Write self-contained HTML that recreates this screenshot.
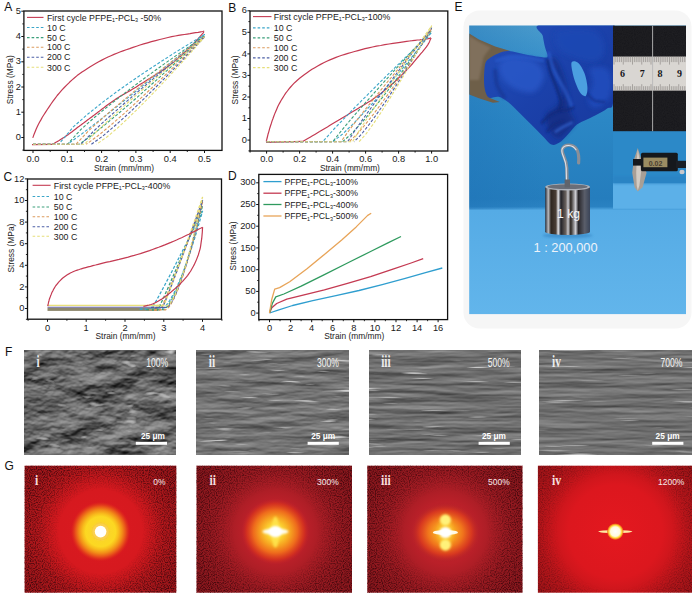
<!DOCTYPE html><html><head><meta charset="utf-8"><title>Figure</title><style>html,body{margin:0;padding:0;background:#fff}body{width:692px;height:594px;overflow:hidden}svg{display:block}</style></head><body>
<svg width="692" height="594" viewBox="0 0 692 594" font-family="Liberation Sans, Arial, sans-serif">
<rect width="692" height="594" fill="#fff"/>
<rect x="23.9" y="11.0" width="198.1" height="139.4" fill="#fff" stroke="#111" stroke-width="1.3"/>
<line x1="33.0" y1="150.4" x2="33.0" y2="153.0" stroke="#111" stroke-width="1"/>
<line x1="67.3" y1="150.4" x2="67.3" y2="153.0" stroke="#111" stroke-width="1"/>
<line x1="101.6" y1="150.4" x2="101.6" y2="153.0" stroke="#111" stroke-width="1"/>
<line x1="135.9" y1="150.4" x2="135.9" y2="153.0" stroke="#111" stroke-width="1"/>
<line x1="170.2" y1="150.4" x2="170.2" y2="153.0" stroke="#111" stroke-width="1"/>
<line x1="204.5" y1="150.4" x2="204.5" y2="153.0" stroke="#111" stroke-width="1"/>
<line x1="50.2" y1="150.4" x2="50.2" y2="152.0" stroke="#111" stroke-width="0.9"/>
<line x1="84.5" y1="150.4" x2="84.5" y2="152.0" stroke="#111" stroke-width="0.9"/>
<line x1="118.8" y1="150.4" x2="118.8" y2="152.0" stroke="#111" stroke-width="0.9"/>
<line x1="153.1" y1="150.4" x2="153.1" y2="152.0" stroke="#111" stroke-width="0.9"/>
<line x1="187.3" y1="150.4" x2="187.3" y2="152.0" stroke="#111" stroke-width="0.9"/>
<line x1="21.3" y1="137.5" x2="23.9" y2="137.5" stroke="#111" stroke-width="1"/>
<line x1="21.3" y1="112.2" x2="23.9" y2="112.2" stroke="#111" stroke-width="1"/>
<line x1="21.3" y1="87.0" x2="23.9" y2="87.0" stroke="#111" stroke-width="1"/>
<line x1="21.3" y1="61.8" x2="23.9" y2="61.8" stroke="#111" stroke-width="1"/>
<line x1="21.3" y1="36.5" x2="23.9" y2="36.5" stroke="#111" stroke-width="1"/>
<line x1="21.3" y1="11.2" x2="23.9" y2="11.2" stroke="#111" stroke-width="1"/>
<line x1="22.3" y1="150.1" x2="23.9" y2="150.1" stroke="#111" stroke-width="0.9"/>
<line x1="22.3" y1="124.9" x2="23.9" y2="124.9" stroke="#111" stroke-width="0.9"/>
<line x1="22.3" y1="99.6" x2="23.9" y2="99.6" stroke="#111" stroke-width="0.9"/>
<line x1="22.3" y1="74.4" x2="23.9" y2="74.4" stroke="#111" stroke-width="0.9"/>
<line x1="22.3" y1="49.1" x2="23.9" y2="49.1" stroke="#111" stroke-width="0.9"/>
<line x1="22.3" y1="23.9" x2="23.9" y2="23.9" stroke="#111" stroke-width="0.9"/>
<text x="33.0" y="161.6" font-size="9.3" text-anchor="middle" fill="#1a1a1a">0.0</text>
<text x="67.3" y="161.6" font-size="9.3" text-anchor="middle" fill="#1a1a1a">0.1</text>
<text x="101.6" y="161.6" font-size="9.3" text-anchor="middle" fill="#1a1a1a">0.2</text>
<text x="135.9" y="161.6" font-size="9.3" text-anchor="middle" fill="#1a1a1a">0.3</text>
<text x="170.2" y="161.6" font-size="9.3" text-anchor="middle" fill="#1a1a1a">0.4</text>
<text x="204.5" y="161.6" font-size="9.3" text-anchor="middle" fill="#1a1a1a">0.5</text>
<text x="20.8" y="140.1" font-size="9.3" text-anchor="end" fill="#1a1a1a">0</text>
<text x="20.8" y="114.8" font-size="9.3" text-anchor="end" fill="#1a1a1a">1</text>
<text x="20.8" y="89.6" font-size="9.3" text-anchor="end" fill="#1a1a1a">2</text>
<text x="20.8" y="64.3" font-size="9.3" text-anchor="end" fill="#1a1a1a">3</text>
<text x="20.8" y="39.1" font-size="9.3" text-anchor="end" fill="#1a1a1a">4</text>
<text x="20.8" y="13.8" font-size="9.3" text-anchor="end" fill="#1a1a1a">5</text>
<text x="124.0" y="171.0" font-size="8.4" text-anchor="middle" fill="#1a1a1a">Strain (mm/mm)</text>
<text transform="translate(12.5,79.7) rotate(-90)" font-size="8.4" text-anchor="middle" fill="#1a1a1a">Stress (MPa)</text>
<g clip-path="url(#cA)">
<polyline points="32.7,137.8 33.3,136.4 34.0,134.4 34.9,132.2 35.9,129.7 37.0,127.2 38.2,124.7 39.5,122.3 40.9,119.9 42.3,117.3 43.9,114.8 45.6,112.2 47.3,109.5 49.1,106.8 51.0,104.0 53.0,101.2 55.1,98.3 57.2,95.5 59.5,92.8 61.8,90.2 64.3,87.5 66.9,84.9 69.5,82.3 72.1,79.9 74.6,77.7 77.1,75.6 79.6,73.8 82.0,72.0 84.5,70.4 87.1,68.7 89.8,67.0 92.7,65.3 95.6,63.6 98.7,61.8 101.8,60.1 104.9,58.5 108.0,57.0 111.0,55.7 114.0,54.4 116.9,53.2 119.9,52.0 123.0,50.9 126.2,49.7 129.6,48.6 133.0,47.4 136.5,46.2 140.0,45.0 143.7,43.9 147.5,42.8 151.4,41.7 155.6,40.6 159.8,39.5 164.0,38.5 168.0,37.5 171.7,36.7 175.2,36.0 178.4,35.4 181.5,34.9 184.4,34.5 187.2,34.1 190.0,33.7 192.7,33.2 195.5,32.7 198.2,32.3 200.7,31.8 202.7,31.5 204.2,31.2" fill="none" stroke="#c43a52" stroke-width="1.2" stroke-linejoin="round" />
<polyline points="203.9,32.1 203.0,33.2 201.7,34.7 200.2,36.4 198.5,38.3 196.8,40.2 195.1,42.0 193.4,43.8 191.7,45.6 189.8,47.4 188.0,49.2 186.2,51.0 184.4,52.7 182.6,54.4 180.8,56.0 179.0,57.6 177.3,59.1 175.5,60.6 173.7,62.1 171.9,63.5 170.1,64.9 168.3,66.3 166.6,67.6 164.8,68.9 163.0,70.1 161.2,71.3 159.4,72.4 157.6,73.5 155.9,74.6 154.1,75.7 152.3,76.8 150.5,77.9 148.7,79.0 147.0,80.1 145.2,81.2 143.4,82.4 141.6,83.5 139.8,84.6 138.0,85.7 136.3,86.9 134.5,88.0 132.7,89.1 130.9,90.2 129.1,91.2 127.3,92.2 125.6,93.2 123.8,94.2 122.0,95.2 120.2,96.3 118.4,97.4 116.6,98.6 114.9,99.8 113.1,101.0 111.3,102.3 109.5,103.5 107.7,104.8 106.0,106.1 104.2,107.5 102.4,108.8 100.6,110.2 98.8,111.6 97.0,112.9 95.3,114.2 93.5,115.6 91.7,116.9 89.9,118.2 88.1,119.6 86.3,120.9 84.6,122.2 82.8,123.6 81.0,124.9 79.2,126.3 77.4,127.6 75.7,128.9 73.9,130.3 72.1,131.7 70.3,133.0 68.5,134.4 66.7,135.6 64.9,136.9 62.9,138.1 61.0,139.3 59.1,140.5 57.4,141.5 56.0,142.3 54.9,142.9 54.1,143.4 53.4,143.8 52.8,144.1 52.4,144.3 52.0,144.4" fill="none" stroke="#c43a52" stroke-width="1.2" stroke-linejoin="round" />
<polyline points="52.0,144.4 32.0,144.6" fill="none" stroke="#c43a52" stroke-width="1.2" stroke-linejoin="round" />
<polyline points="33.0,144.3 58.7,144.3 73.3,126.9 87.9,114.0 102.5,102.4 117.0,91.5 131.6,81.2 146.2,71.3 160.8,61.7 175.3,52.4 189.9,43.4 204.5,34.5 190.8,46.0 177.1,57.4 163.3,68.8 149.6,80.1 135.9,91.3 122.2,102.3 108.5,113.3 94.7,124.0 81.0,134.5 67.3,144.3" fill="none" stroke="#3aa6c9" stroke-width="1.1" stroke-dasharray="3,1.8" stroke-linejoin="round" />
<polyline points="33.0,144.3 67.3,144.3 81.0,129.4 94.7,117.2 108.5,105.9 122.2,95.1 135.9,84.6 149.6,74.5 163.3,64.6 177.1,54.9 190.8,45.4 204.5,36.0 192.0,47.6 179.5,59.2 166.9,70.6 154.4,81.9 141.9,93.1 129.4,104.1 116.9,114.8 104.3,125.3 91.8,135.3 79.3,144.3" fill="none" stroke="#3a9f7a" stroke-width="1.1" stroke-dasharray="3,1.8" stroke-linejoin="round" />
<polyline points="33.0,144.3 75.9,144.3 88.7,130.7 101.6,119.0 114.5,107.8 127.3,97.1 140.2,86.5 153.1,76.2 165.9,66.1 178.8,56.1 191.6,46.3 204.5,36.5 192.7,48.3 180.8,60.0 169.0,71.5 157.2,82.8 145.3,94.0 133.5,105.0 121.7,115.6 109.8,126.0 98.0,135.8 86.2,144.3" fill="none" stroke="#dc9a5c" stroke-width="1.1" stroke-dasharray="3,1.8" stroke-linejoin="round" />
<polyline points="33.0,144.3 81.0,144.3 93.4,131.4 105.7,119.9 118.1,108.9 130.4,98.1 142.8,87.6 155.1,77.2 167.5,67.0 179.8,56.9 192.2,46.9 204.5,37.0 193.2,48.9 181.9,60.7 170.5,72.3 159.2,83.8 147.9,94.9 136.6,105.9 125.3,116.5 113.9,126.6 102.6,136.2 91.3,144.3" fill="none" stroke="#4c5fa6" stroke-width="1.1" stroke-dasharray="3,1.8" stroke-linejoin="round" />
<polyline points="33.0,144.3 84.4,144.3 96.5,131.7 108.5,120.3 120.5,109.3 132.5,98.5 144.5,88.0 156.5,77.6 168.5,67.3 180.5,57.1 192.5,47.0 204.5,37.0 193.7,49.3 182.9,61.3 172.1,73.1 161.3,84.7 150.5,96.0 139.7,106.9 128.9,117.4 118.1,127.5 107.3,136.7 96.5,144.3" fill="none" stroke="#e6de78" stroke-width="1.1" stroke-dasharray="3,1.8" stroke-linejoin="round" />
</g>
<line x1="27.0" y1="17.4" x2="43.5" y2="17.4" stroke="#c43a52" stroke-width="1.1"/>
<text x="47.0" y="20.6" font-size="8.8" fill="#1a1a1a">First cycle PFPE<tspan font-size="5.4" dy="1.6">1</tspan><tspan dy="-1.6">-PCL</tspan><tspan font-size="5.4" dy="1.6">3</tspan><tspan dy="-1.6"> -50%</tspan></text>
<line x1="27.0" y1="27.5" x2="43.5" y2="27.5" stroke="#3aa6c9" stroke-width="1.1" stroke-dasharray="2.6,2"/>
<text x="47.0" y="30.7" font-size="8.8" fill="#1a1a1a">10 C</text>
<line x1="27.0" y1="37.6" x2="43.5" y2="37.6" stroke="#3a9f7a" stroke-width="1.1" stroke-dasharray="2.6,2"/>
<text x="47.0" y="40.8" font-size="8.8" fill="#1a1a1a">50 C</text>
<line x1="27.0" y1="47.2" x2="43.5" y2="47.2" stroke="#dc9a5c" stroke-width="1.1" stroke-dasharray="2.6,2"/>
<text x="47.0" y="50.4" font-size="8.8" fill="#1a1a1a">100 C</text>
<line x1="27.0" y1="57.2" x2="43.5" y2="57.2" stroke="#4c5fa6" stroke-width="1.1" stroke-dasharray="2.6,2"/>
<text x="47.0" y="60.4" font-size="8.8" fill="#1a1a1a">200 C</text>
<line x1="27.0" y1="67.3" x2="43.5" y2="67.3" stroke="#e6de78" stroke-width="1.1" stroke-dasharray="2.6,2"/>
<text x="47.0" y="70.5" font-size="8.8" fill="#1a1a1a">300 C</text>
<text x="4.3" y="11.2" font-size="12" fill="#111">A</text>
<rect x="250.0" y="11.0" width="197.8" height="140.0" fill="#fff" stroke="#111" stroke-width="1.3"/>
<line x1="266.6" y1="151.0" x2="266.6" y2="153.6" stroke="#111" stroke-width="1"/>
<line x1="299.6" y1="151.0" x2="299.6" y2="153.6" stroke="#111" stroke-width="1"/>
<line x1="332.6" y1="151.0" x2="332.6" y2="153.6" stroke="#111" stroke-width="1"/>
<line x1="365.6" y1="151.0" x2="365.6" y2="153.6" stroke="#111" stroke-width="1"/>
<line x1="398.6" y1="151.0" x2="398.6" y2="153.6" stroke="#111" stroke-width="1"/>
<line x1="431.6" y1="151.0" x2="431.6" y2="153.6" stroke="#111" stroke-width="1"/>
<line x1="250.1" y1="151.0" x2="250.1" y2="152.6" stroke="#111" stroke-width="0.9"/>
<line x1="283.1" y1="151.0" x2="283.1" y2="152.6" stroke="#111" stroke-width="0.9"/>
<line x1="316.1" y1="151.0" x2="316.1" y2="152.6" stroke="#111" stroke-width="0.9"/>
<line x1="349.1" y1="151.0" x2="349.1" y2="152.6" stroke="#111" stroke-width="0.9"/>
<line x1="382.1" y1="151.0" x2="382.1" y2="152.6" stroke="#111" stroke-width="0.9"/>
<line x1="415.1" y1="151.0" x2="415.1" y2="152.6" stroke="#111" stroke-width="0.9"/>
<line x1="247.4" y1="140.1" x2="250.0" y2="140.1" stroke="#111" stroke-width="1"/>
<line x1="247.4" y1="118.5" x2="250.0" y2="118.5" stroke="#111" stroke-width="1"/>
<line x1="247.4" y1="97.0" x2="250.0" y2="97.0" stroke="#111" stroke-width="1"/>
<line x1="247.4" y1="75.4" x2="250.0" y2="75.4" stroke="#111" stroke-width="1"/>
<line x1="247.4" y1="53.9" x2="250.0" y2="53.9" stroke="#111" stroke-width="1"/>
<line x1="247.4" y1="32.3" x2="250.0" y2="32.3" stroke="#111" stroke-width="1"/>
<line x1="247.4" y1="10.8" x2="250.0" y2="10.8" stroke="#111" stroke-width="1"/>
<line x1="248.4" y1="150.9" x2="250.0" y2="150.9" stroke="#111" stroke-width="0.9"/>
<line x1="248.4" y1="129.3" x2="250.0" y2="129.3" stroke="#111" stroke-width="0.9"/>
<line x1="248.4" y1="107.8" x2="250.0" y2="107.8" stroke="#111" stroke-width="0.9"/>
<line x1="248.4" y1="86.2" x2="250.0" y2="86.2" stroke="#111" stroke-width="0.9"/>
<line x1="248.4" y1="64.7" x2="250.0" y2="64.7" stroke="#111" stroke-width="0.9"/>
<line x1="248.4" y1="43.1" x2="250.0" y2="43.1" stroke="#111" stroke-width="0.9"/>
<line x1="248.4" y1="21.6" x2="250.0" y2="21.6" stroke="#111" stroke-width="0.9"/>
<text x="266.6" y="161.8" font-size="9.3" text-anchor="middle" fill="#1a1a1a">0.0</text>
<text x="299.6" y="161.8" font-size="9.3" text-anchor="middle" fill="#1a1a1a">0.2</text>
<text x="332.6" y="161.8" font-size="9.3" text-anchor="middle" fill="#1a1a1a">0.4</text>
<text x="365.6" y="161.8" font-size="9.3" text-anchor="middle" fill="#1a1a1a">0.6</text>
<text x="398.6" y="161.8" font-size="9.3" text-anchor="middle" fill="#1a1a1a">0.8</text>
<text x="431.6" y="161.8" font-size="9.3" text-anchor="middle" fill="#1a1a1a">1.0</text>
<text x="246.9" y="142.7" font-size="9.3" text-anchor="end" fill="#1a1a1a">0</text>
<text x="246.9" y="121.1" font-size="9.3" text-anchor="end" fill="#1a1a1a">1</text>
<text x="246.9" y="99.6" font-size="9.3" text-anchor="end" fill="#1a1a1a">2</text>
<text x="246.9" y="78.0" font-size="9.3" text-anchor="end" fill="#1a1a1a">3</text>
<text x="246.9" y="56.5" font-size="9.3" text-anchor="end" fill="#1a1a1a">4</text>
<text x="246.9" y="34.9" font-size="9.3" text-anchor="end" fill="#1a1a1a">5</text>
<text x="246.9" y="13.4" font-size="9.3" text-anchor="end" fill="#1a1a1a">6</text>
<text x="349.9" y="171.0" font-size="8.4" text-anchor="middle" fill="#1a1a1a">Strain (mm/mm)</text>
<text transform="translate(237.5,80.0) rotate(-90)" font-size="8.4" text-anchor="middle" fill="#1a1a1a">Stress (MPa)</text>
<g>
<polyline points="266.2,141.4 266.6,140.2 267.0,138.5 267.5,136.5 268.0,134.3 268.7,132.1 269.3,129.9 269.9,127.7 270.6,125.5 271.4,123.2 272.1,120.9 273.0,118.5 273.8,116.2 274.7,113.9 275.6,111.7 276.6,109.4 277.6,107.1 278.7,104.8 279.9,102.6 281.2,100.3 282.7,97.9 284.2,95.5 285.7,93.2 287.4,91.0 289.0,88.9 290.6,87.0 292.3,85.1 293.9,83.4 295.7,81.7 297.6,80.0 299.6,78.3 301.9,76.5 304.2,74.7 306.7,72.9 309.4,71.1 312.0,69.3 314.8,67.7 317.7,66.0 320.6,64.4 323.7,62.8 326.8,61.3 329.9,59.9 333.0,58.6 336.0,57.4 339.0,56.3 341.9,55.3 344.9,54.4 348.0,53.4 351.2,52.5 354.6,51.5 358.0,50.6 361.5,49.6 365.0,48.7 368.7,47.9 372.5,47.0 376.4,46.2 380.6,45.5 384.8,44.7 389.0,44.0 393.0,43.4 396.7,42.8 400.2,42.3 403.5,41.8 406.6,41.4 409.6,41.0 412.3,40.7 415.0,40.3 417.4,40.0 419.8,39.8 421.9,39.5 423.9,39.3 425.6,39.0 427.1,38.8 428.3,38.6 429.2,38.4 429.8,38.3 430.3,38.1 430.7,38.0 431.0,37.9" fill="none" stroke="#c43a52" stroke-width="1.2" stroke-linejoin="round" />
<polyline points="431.0,37.9 430.8,38.5 430.4,39.4 430.0,40.4 429.6,41.4 429.1,42.5 428.6,43.4 428.2,44.1 427.8,44.8 427.4,45.4 426.9,46.1 426.4,46.9 425.6,47.9 424.6,49.2 423.4,50.6 422.2,52.1 420.8,53.7 419.4,55.4 418.0,57.0 416.6,58.7 415.2,60.4 413.7,62.2 412.2,64.0 410.6,65.8 408.9,67.7 407.0,69.6 405.1,71.7 403.0,73.7 400.9,75.8 398.8,77.8 396.7,79.8 394.7,81.7 392.7,83.5 390.7,85.3 388.7,87.1 386.6,88.8 384.6,90.4 382.6,92.0 380.6,93.6 378.5,95.2 376.5,96.7 374.5,98.1 372.5,99.5 370.5,100.9 368.5,102.1 366.6,103.3 364.6,104.5 362.5,105.8 360.3,107.1 358.0,108.5 355.5,110.0 352.9,111.6 350.3,113.1 347.7,114.7 345.2,116.2 342.6,117.7 340.1,119.3 337.6,120.8 335.0,122.3 332.5,123.8 330.0,125.3 327.4,126.9 324.8,128.4 322.2,130.0 319.6,131.6 317.2,133.0 314.8,134.4 312.5,135.8 310.1,137.2 307.8,138.5 305.7,139.7 303.9,140.7 302.7,141.4" fill="none" stroke="#c43a52" stroke-width="1.2" stroke-linejoin="round" />
<polyline points="302.7,141.4 266.2,142.3" fill="none" stroke="#c43a52" stroke-width="1.2" stroke-linejoin="round" />
<polyline points="266.6,141.8 322.7,141.8 333.6,129.5 344.5,118.1 355.4,106.9 366.3,96.0 377.1,85.2 388.0,74.4 398.9,63.8 409.8,53.3 420.7,42.8 431.6,32.3 421.7,44.8 411.8,57.1 401.9,69.2 392.0,81.0 382.1,92.5 372.2,103.7 362.3,114.4 352.4,124.6 342.5,134.1 332.6,141.8" fill="none" stroke="#3aa6c9" stroke-width="1.1" stroke-dasharray="3,1.8" stroke-linejoin="round" />
<polyline points="266.6,141.8 332.6,141.8 342.5,129.3 352.4,117.6 362.3,106.3 372.2,95.1 382.1,84.0 392.0,73.1 401.9,62.3 411.8,51.5 421.7,40.8 431.6,30.2 422.7,42.9 413.8,55.5 404.9,67.8 396.0,79.8 387.1,91.5 378.1,102.9 369.2,113.9 360.3,124.3 351.4,133.9 342.5,141.8" fill="none" stroke="#3a9f7a" stroke-width="1.1" stroke-dasharray="3,1.8" stroke-linejoin="round" />
<polyline points="266.6,141.8 340.9,141.8 349.9,129.2 359.0,117.4 368.1,105.9 377.2,94.6 386.2,83.5 395.3,72.5 404.4,61.5 413.5,50.6 422.5,39.9 431.6,29.1 423.4,42.0 415.1,54.6 406.9,67.0 398.6,79.2 390.4,91.0 382.1,102.5 373.9,113.6 365.6,124.1 357.4,133.8 349.1,141.8" fill="none" stroke="#dc9a5c" stroke-width="1.1" stroke-dasharray="3,1.8" stroke-linejoin="round" />
<polyline points="266.6,141.8 347.5,141.8 355.9,129.1 364.3,117.2 372.7,105.6 381.1,94.2 389.5,82.9 397.9,71.8 406.4,60.7 414.8,49.8 423.2,38.9 431.6,28.0 423.8,41.0 416.1,53.8 408.3,66.3 400.6,78.6 392.8,90.6 385.1,102.2 377.3,113.3 369.6,123.9 361.8,133.8 354.1,141.8" fill="none" stroke="#4c5fa6" stroke-width="1.1" stroke-dasharray="3,1.8" stroke-linejoin="round" />
<polyline points="266.6,141.8 352.4,141.8 360.3,128.8 368.2,116.7 376.2,104.9 384.1,93.3 392.0,81.8 399.9,70.5 407.8,59.2 415.8,48.0 423.7,36.9 431.6,25.9 424.3,39.1 417.1,52.1 409.8,64.9 402.6,77.4 395.3,89.6 388.0,101.4 380.8,112.8 373.5,123.6 366.3,133.6 359.0,141.8" fill="none" stroke="#e6de78" stroke-width="1.1" stroke-dasharray="3,1.8" stroke-linejoin="round" />
</g>
<line x1="253.0" y1="16.6" x2="271.5" y2="16.6" stroke="#c43a52" stroke-width="1.1"/>
<text x="273.8" y="19.8" font-size="8.8" fill="#1a1a1a">First cycle PFPE<tspan font-size="5.4" dy="1.6">1</tspan><tspan dy="-1.6">-PCL</tspan><tspan font-size="5.4" dy="1.6">3</tspan><tspan dy="-1.6">-100%</tspan></text>
<line x1="253.0" y1="27.9" x2="271.5" y2="27.9" stroke="#3aa6c9" stroke-width="1.1" stroke-dasharray="2.6,2"/>
<text x="273.8" y="31.1" font-size="8.8" fill="#1a1a1a">10 C</text>
<line x1="253.0" y1="37.9" x2="271.5" y2="37.9" stroke="#3a9f7a" stroke-width="1.1" stroke-dasharray="2.6,2"/>
<text x="273.8" y="41.1" font-size="8.8" fill="#1a1a1a">50 C</text>
<line x1="253.0" y1="47.8" x2="271.5" y2="47.8" stroke="#dc9a5c" stroke-width="1.1" stroke-dasharray="2.6,2"/>
<text x="273.8" y="51.0" font-size="8.8" fill="#1a1a1a">100 C</text>
<line x1="253.0" y1="57.9" x2="271.5" y2="57.9" stroke="#4c5fa6" stroke-width="1.1" stroke-dasharray="2.6,2"/>
<text x="273.8" y="61.1" font-size="8.8" fill="#1a1a1a">200 C</text>
<line x1="253.0" y1="67.6" x2="271.5" y2="67.6" stroke="#e6de78" stroke-width="1.1" stroke-dasharray="2.6,2"/>
<text x="273.8" y="70.8" font-size="8.8" fill="#1a1a1a">300 C</text>
<text x="228.3" y="11.5" font-size="12" fill="#111">B</text>
<rect x="27.5" y="179.0" width="194.0" height="140.2" fill="#fff" stroke="#111" stroke-width="1.3"/>
<line x1="47.5" y1="319.2" x2="47.5" y2="321.8" stroke="#111" stroke-width="1"/>
<line x1="86.2" y1="319.2" x2="86.2" y2="321.8" stroke="#111" stroke-width="1"/>
<line x1="125.0" y1="319.2" x2="125.0" y2="321.8" stroke="#111" stroke-width="1"/>
<line x1="163.8" y1="319.2" x2="163.8" y2="321.8" stroke="#111" stroke-width="1"/>
<line x1="202.5" y1="319.2" x2="202.5" y2="321.8" stroke="#111" stroke-width="1"/>
<line x1="28.1" y1="319.2" x2="28.1" y2="320.8" stroke="#111" stroke-width="0.9"/>
<line x1="66.9" y1="319.2" x2="66.9" y2="320.8" stroke="#111" stroke-width="0.9"/>
<line x1="105.6" y1="319.2" x2="105.6" y2="320.8" stroke="#111" stroke-width="0.9"/>
<line x1="144.4" y1="319.2" x2="144.4" y2="320.8" stroke="#111" stroke-width="0.9"/>
<line x1="183.1" y1="319.2" x2="183.1" y2="320.8" stroke="#111" stroke-width="0.9"/>
<line x1="221.9" y1="319.2" x2="221.9" y2="320.8" stroke="#111" stroke-width="0.9"/>
<line x1="24.9" y1="308.5" x2="27.5" y2="308.5" stroke="#111" stroke-width="1"/>
<line x1="24.9" y1="286.9" x2="27.5" y2="286.9" stroke="#111" stroke-width="1"/>
<line x1="24.9" y1="265.3" x2="27.5" y2="265.3" stroke="#111" stroke-width="1"/>
<line x1="24.9" y1="243.7" x2="27.5" y2="243.7" stroke="#111" stroke-width="1"/>
<line x1="24.9" y1="222.1" x2="27.5" y2="222.1" stroke="#111" stroke-width="1"/>
<line x1="24.9" y1="200.5" x2="27.5" y2="200.5" stroke="#111" stroke-width="1"/>
<line x1="24.9" y1="178.9" x2="27.5" y2="178.9" stroke="#111" stroke-width="1"/>
<line x1="25.9" y1="319.3" x2="27.5" y2="319.3" stroke="#111" stroke-width="0.9"/>
<line x1="25.9" y1="297.7" x2="27.5" y2="297.7" stroke="#111" stroke-width="0.9"/>
<line x1="25.9" y1="276.1" x2="27.5" y2="276.1" stroke="#111" stroke-width="0.9"/>
<line x1="25.9" y1="254.5" x2="27.5" y2="254.5" stroke="#111" stroke-width="0.9"/>
<line x1="25.9" y1="232.9" x2="27.5" y2="232.9" stroke="#111" stroke-width="0.9"/>
<line x1="25.9" y1="211.3" x2="27.5" y2="211.3" stroke="#111" stroke-width="0.9"/>
<line x1="25.9" y1="189.7" x2="27.5" y2="189.7" stroke="#111" stroke-width="0.9"/>
<text x="47.5" y="330.6" font-size="9.3" text-anchor="middle" fill="#1a1a1a">0</text>
<text x="86.2" y="330.6" font-size="9.3" text-anchor="middle" fill="#1a1a1a">1</text>
<text x="125.0" y="330.6" font-size="9.3" text-anchor="middle" fill="#1a1a1a">2</text>
<text x="163.8" y="330.6" font-size="9.3" text-anchor="middle" fill="#1a1a1a">3</text>
<text x="202.5" y="330.6" font-size="9.3" text-anchor="middle" fill="#1a1a1a">4</text>
<text x="24.4" y="311.1" font-size="9.3" text-anchor="end" fill="#1a1a1a">0</text>
<text x="24.4" y="289.5" font-size="9.3" text-anchor="end" fill="#1a1a1a">2</text>
<text x="24.4" y="267.9" font-size="9.3" text-anchor="end" fill="#1a1a1a">4</text>
<text x="24.4" y="246.3" font-size="9.3" text-anchor="end" fill="#1a1a1a">6</text>
<text x="24.4" y="224.7" font-size="9.3" text-anchor="end" fill="#1a1a1a">8</text>
<text x="24.4" y="203.1" font-size="9.3" text-anchor="end" fill="#1a1a1a">10</text>
<text x="24.4" y="181.5" font-size="9.3" text-anchor="end" fill="#1a1a1a">12</text>
<text x="125.5" y="338.6" font-size="8.4" text-anchor="middle" fill="#1a1a1a">Strain (mm/mm)</text>
<text transform="translate(13.5,248.1) rotate(-90)" font-size="8.4" text-anchor="middle" fill="#1a1a1a">Stress (MPa)</text>
<g>
<rect x="47.5" y="308.0" width="110.8" height="2.9" fill="#8d876c"/>
<line x1="47.5" y1="307.2" x2="163.0" y2="307.2" stroke="#5f5c96" stroke-width="1.1"/>
<line x1="47.5" y1="305.4" x2="163.8" y2="305.4" stroke="#e9e07c" stroke-width="1.2"/>
<polyline points="139.7,309.0 151.4,309.0 156.5,300.3 161.6,291.0 166.7,281.4 171.8,271.7 176.9,261.8 182.0,251.9 187.2,241.8 192.3,231.7 197.4,221.5 202.5,211.3 198.4,225.6 194.4,239.1 190.3,251.8 186.2,263.6 182.2,274.5 178.1,284.3 174.0,293.0 169.9,300.3 165.9,305.9 161.8,309.0 150.2,309.6" fill="none" stroke="#3aa6c9" stroke-width="1.3" stroke-dasharray="3,1.8" stroke-linejoin="round" />
<polyline points="146.3,309.6 157.9,309.6 162.4,300.3 166.9,290.4 171.3,280.3 175.8,270.0 180.2,259.5 184.7,248.9 189.1,238.3 193.6,227.6 198.0,216.8 202.5,205.9 198.6,221.1 194.8,235.4 190.9,248.9 187.0,261.4 183.1,272.9 179.2,283.4 175.4,292.5 171.5,300.3 167.6,306.3 163.8,309.6 152.1,310.1" fill="none" stroke="#3a9f7a" stroke-width="1.3" stroke-dasharray="3,1.8" stroke-linejoin="round" />
<polyline points="149.0,309.8 160.6,309.8 164.8,300.2 169.0,290.0 173.2,279.5 177.4,268.9 181.6,258.1 185.8,247.1 189.9,236.1 194.1,225.0 198.3,213.9 202.5,202.7 198.8,218.3 195.1,233.1 191.5,247.1 187.8,260.0 184.1,271.9 180.4,282.7 176.7,292.2 173.1,300.2 169.4,306.4 165.7,309.8 154.1,310.3" fill="none" stroke="#dc9a5c" stroke-width="1.3" stroke-dasharray="3,1.8" stroke-linejoin="round" />
<polyline points="151.0,307.4 162.6,307.4 166.6,297.9 170.6,287.7 174.6,277.2 178.6,266.6 182.5,255.8 186.5,244.9 190.5,233.9 194.5,222.8 198.5,211.7 202.5,200.5 198.9,216.1 195.4,230.9 191.8,244.8 188.2,257.7 184.7,269.6 181.1,280.4 177.5,289.9 174.0,297.9 170.4,304.0 166.9,307.4 155.2,308.0" fill="none" stroke="#4c5fa6" stroke-width="1.3" stroke-dasharray="3,1.8" stroke-linejoin="round" />
<polyline points="152.1,305.5 163.8,305.5 167.6,295.8 171.5,285.5 175.4,274.9 179.2,264.1 183.1,253.2 187.0,242.2 190.9,231.1 194.8,219.9 198.6,208.6 202.5,197.3 199.0,213.1 195.5,228.0 192.0,242.1 188.6,255.2 185.1,267.2 181.6,278.1 178.1,287.7 174.6,295.8 171.1,302.1 167.6,305.5 156.0,306.0" fill="none" stroke="#e6de78" stroke-width="1.3" stroke-dasharray="3,1.8" stroke-linejoin="round" />
<polyline points="47.8,306.1 47.9,305.4 48.1,304.4 48.4,303.2 48.6,302.0 49.0,300.7 49.3,299.4 49.7,298.2 50.2,297.0 50.6,295.7 51.2,294.4 51.7,293.1 52.3,291.8 53.0,290.6 53.6,289.3 54.3,288.1 55.1,286.8 55.9,285.5 56.9,284.3 58.0,283.0 59.1,281.6 60.4,280.3 61.7,279.0 63.1,277.8 64.5,276.7 65.9,275.7 67.3,274.7 68.8,273.9 70.3,273.0 71.9,272.3 73.6,271.5 75.4,270.8 77.3,270.1 79.3,269.5 81.3,268.8 83.5,268.2 85.7,267.6 88.1,266.9 90.5,266.3 92.9,265.6 95.5,265.0 98.2,264.3 100.9,263.6 103.8,262.9 106.8,262.2 109.8,261.6 112.9,260.8 116.0,260.1 119.1,259.4 122.2,258.6 125.2,257.8 128.2,257.1 131.3,256.2 134.3,255.4 137.3,254.5 140.4,253.6 143.4,252.6 146.4,251.6 149.5,250.6 152.5,249.5 155.5,248.4 158.6,247.3 161.7,246.1 164.8,244.9 167.9,243.6 170.9,242.4 173.7,241.2 176.5,240.0 179.1,238.8 181.6,237.7 184.1,236.5 186.5,235.3 188.9,234.2 191.4,232.9 194.1,231.6 196.7,230.3 199.1,229.0 201.1,228.0 202.6,227.2" fill="none" stroke="#c43a52" stroke-width="1.2" stroke-linejoin="round" />
<polyline points="202.6,227.2 202.5,228.4 202.4,230.2 202.3,232.2 202.1,234.4 201.9,236.6 201.7,238.7 201.4,240.7 201.1,242.7 200.8,244.8 200.5,246.8 200.1,248.8 199.5,250.9 198.9,252.9 198.3,255.0 197.5,257.0 196.7,259.1 195.9,261.1 195.0,263.0 194.1,264.9 193.1,266.7 192.1,268.5 191.1,270.3 190.0,272.0 188.9,273.6 187.7,275.3 186.5,276.9 185.2,278.4 183.9,279.9 182.6,281.4 181.3,282.7 180.1,284.0 178.8,285.3 177.5,286.4 176.3,287.5 175.0,288.6 173.7,289.7 172.5,290.8 171.2,291.9 169.9,292.9 168.6,293.9 167.3,294.9 166.2,295.8 165.1,296.6 164.1,297.4 163.1,298.0 162.2,298.7 161.2,299.4 160.1,300.0 158.9,300.7 157.7,301.4 156.5,302.1 155.2,302.8 153.9,303.4 152.5,304.0 151.0,304.5 149.2,305.0 147.5,305.4 145.8,305.8 144.4,306.2 143.4,306.4" fill="none" stroke="#c43a52" stroke-width="1.2" stroke-linejoin="round" />
</g>
<line x1="32.6" y1="185.3" x2="50.6" y2="185.3" stroke="#c43a52" stroke-width="1.1"/>
<text x="53.8" y="188.5" font-size="8.8" fill="#1a1a1a">First cycle PFPE<tspan font-size="5.4" dy="1.6">1</tspan><tspan dy="-1.6">-PCL</tspan><tspan font-size="5.4" dy="1.6">3</tspan><tspan dy="-1.6">-400%</tspan></text>
<line x1="32.6" y1="196.5" x2="50.6" y2="196.5" stroke="#3aa6c9" stroke-width="1.1" stroke-dasharray="2.6,2"/>
<text x="53.8" y="199.7" font-size="8.8" fill="#1a1a1a">10 C</text>
<line x1="32.6" y1="207.0" x2="50.6" y2="207.0" stroke="#3a9f7a" stroke-width="1.1" stroke-dasharray="2.6,2"/>
<text x="53.8" y="210.2" font-size="8.8" fill="#1a1a1a">50 C</text>
<line x1="32.6" y1="216.7" x2="50.6" y2="216.7" stroke="#dc9a5c" stroke-width="1.1" stroke-dasharray="2.6,2"/>
<text x="53.8" y="219.9" font-size="8.8" fill="#1a1a1a">100 C</text>
<line x1="32.6" y1="226.8" x2="50.6" y2="226.8" stroke="#4c5fa6" stroke-width="1.1" stroke-dasharray="2.6,2"/>
<text x="53.8" y="230.0" font-size="8.8" fill="#1a1a1a">200 C</text>
<line x1="32.6" y1="236.3" x2="50.6" y2="236.3" stroke="#e6de78" stroke-width="1.1" stroke-dasharray="2.6,2"/>
<text x="53.8" y="239.5" font-size="8.8" fill="#1a1a1a">300 C</text>
<text x="3.6" y="180.6" font-size="12" fill="#111">C</text>
<rect x="258.8" y="174.4" width="188.8" height="145.2" fill="#fff" stroke="#111" stroke-width="1.3"/>
<line x1="269.5" y1="319.6" x2="269.5" y2="322.2" stroke="#111" stroke-width="1"/>
<line x1="290.6" y1="319.6" x2="290.6" y2="322.2" stroke="#111" stroke-width="1"/>
<line x1="311.7" y1="319.6" x2="311.7" y2="322.2" stroke="#111" stroke-width="1"/>
<line x1="332.7" y1="319.6" x2="332.7" y2="322.2" stroke="#111" stroke-width="1"/>
<line x1="353.8" y1="319.6" x2="353.8" y2="322.2" stroke="#111" stroke-width="1"/>
<line x1="374.9" y1="319.6" x2="374.9" y2="322.2" stroke="#111" stroke-width="1"/>
<line x1="396.0" y1="319.6" x2="396.0" y2="322.2" stroke="#111" stroke-width="1"/>
<line x1="417.1" y1="319.6" x2="417.1" y2="322.2" stroke="#111" stroke-width="1"/>
<line x1="438.1" y1="319.6" x2="438.1" y2="322.2" stroke="#111" stroke-width="1"/>
<line x1="259.0" y1="319.6" x2="259.0" y2="321.2" stroke="#111" stroke-width="0.9"/>
<line x1="280.0" y1="319.6" x2="280.0" y2="321.2" stroke="#111" stroke-width="0.9"/>
<line x1="301.1" y1="319.6" x2="301.1" y2="321.2" stroke="#111" stroke-width="0.9"/>
<line x1="322.2" y1="319.6" x2="322.2" y2="321.2" stroke="#111" stroke-width="0.9"/>
<line x1="343.3" y1="319.6" x2="343.3" y2="321.2" stroke="#111" stroke-width="0.9"/>
<line x1="364.4" y1="319.6" x2="364.4" y2="321.2" stroke="#111" stroke-width="0.9"/>
<line x1="385.4" y1="319.6" x2="385.4" y2="321.2" stroke="#111" stroke-width="0.9"/>
<line x1="406.5" y1="319.6" x2="406.5" y2="321.2" stroke="#111" stroke-width="0.9"/>
<line x1="427.6" y1="319.6" x2="427.6" y2="321.2" stroke="#111" stroke-width="0.9"/>
<line x1="256.2" y1="313.1" x2="258.8" y2="313.1" stroke="#111" stroke-width="1"/>
<line x1="256.2" y1="291.4" x2="258.8" y2="291.4" stroke="#111" stroke-width="1"/>
<line x1="256.2" y1="269.7" x2="258.8" y2="269.7" stroke="#111" stroke-width="1"/>
<line x1="256.2" y1="247.9" x2="258.8" y2="247.9" stroke="#111" stroke-width="1"/>
<line x1="256.2" y1="226.2" x2="258.8" y2="226.2" stroke="#111" stroke-width="1"/>
<line x1="256.2" y1="204.5" x2="258.8" y2="204.5" stroke="#111" stroke-width="1"/>
<line x1="256.2" y1="182.8" x2="258.8" y2="182.8" stroke="#111" stroke-width="1"/>
<line x1="257.2" y1="302.2" x2="258.8" y2="302.2" stroke="#111" stroke-width="0.9"/>
<line x1="257.2" y1="280.5" x2="258.8" y2="280.5" stroke="#111" stroke-width="0.9"/>
<line x1="257.2" y1="258.8" x2="258.8" y2="258.8" stroke="#111" stroke-width="0.9"/>
<line x1="257.2" y1="237.1" x2="258.8" y2="237.1" stroke="#111" stroke-width="0.9"/>
<line x1="257.2" y1="215.3" x2="258.8" y2="215.3" stroke="#111" stroke-width="0.9"/>
<line x1="257.2" y1="193.6" x2="258.8" y2="193.6" stroke="#111" stroke-width="0.9"/>
<text x="269.5" y="331.2" font-size="9.3" text-anchor="middle" fill="#1a1a1a">0</text>
<text x="290.6" y="331.2" font-size="9.3" text-anchor="middle" fill="#1a1a1a">2</text>
<text x="311.7" y="331.2" font-size="9.3" text-anchor="middle" fill="#1a1a1a">4</text>
<text x="332.7" y="331.2" font-size="9.3" text-anchor="middle" fill="#1a1a1a">6</text>
<text x="353.8" y="331.2" font-size="9.3" text-anchor="middle" fill="#1a1a1a">8</text>
<text x="374.9" y="331.2" font-size="9.3" text-anchor="middle" fill="#1a1a1a">10</text>
<text x="396.0" y="331.2" font-size="9.3" text-anchor="middle" fill="#1a1a1a">12</text>
<text x="417.1" y="331.2" font-size="9.3" text-anchor="middle" fill="#1a1a1a">14</text>
<text x="438.1" y="331.2" font-size="9.3" text-anchor="middle" fill="#1a1a1a">16</text>
<text x="255.7" y="315.7" font-size="9.3" text-anchor="end" fill="#1a1a1a">0</text>
<text x="255.7" y="294.0" font-size="9.3" text-anchor="end" fill="#1a1a1a">50</text>
<text x="255.7" y="272.3" font-size="9.3" text-anchor="end" fill="#1a1a1a">100</text>
<text x="255.7" y="250.5" font-size="9.3" text-anchor="end" fill="#1a1a1a">150</text>
<text x="255.7" y="228.8" font-size="9.3" text-anchor="end" fill="#1a1a1a">200</text>
<text x="255.7" y="207.1" font-size="9.3" text-anchor="end" fill="#1a1a1a">250</text>
<text x="255.7" y="185.4" font-size="9.3" text-anchor="end" fill="#1a1a1a">300</text>
<text x="354.2" y="338.6" font-size="8.4" text-anchor="middle" fill="#1a1a1a">Strain (mm/mm)</text>
<text transform="translate(235.5,246.0) rotate(-90)" font-size="8.4" text-anchor="middle" fill="#1a1a1a">Stress (MPa)</text>
<polyline points="269.5,313.0 278.1,310.2 292.6,305.5 312.8,300.6 335.9,295.7 359.0,290.5 382.2,284.7 405.3,278.4 425.5,272.6 442.3,268.0" fill="none" stroke="#2f9ecf" stroke-width="1.3" stroke-linejoin="round" />
<polyline points="269.5,313.0 271.8,307.8 276.7,303.5 286.8,299.2 304.1,294.8 324.4,289.9 347.5,283.3 370.6,276.6 393.7,268.8 411.1,263.0 423.2,258.7" fill="none" stroke="#c43a52" stroke-width="1.3" stroke-linejoin="round" />
<polyline points="269.5,313.0 272.3,303.5 275.8,296.9 283.9,294.0 301.2,286.2 324.4,274.6 347.5,263.0 370.6,251.5 387.9,242.8 401.0,236.5" fill="none" stroke="#2f9a5e" stroke-width="1.3" stroke-linejoin="round" />
<polyline points="269.5,313.0 271.8,299.2 274.7,289.1 279.6,287.6 289.7,281.8 307.0,268.8 324.4,254.4 341.7,239.9 356.2,226.9 367.7,215.4 371.2,213.3" fill="none" stroke="#e8a458" stroke-width="1.3" stroke-linejoin="round" />
<line x1="263.4" y1="181.6" x2="281.5" y2="181.6" stroke="#2f9ecf" stroke-width="1.3"/>
<text x="284.4" y="184.8" font-size="8.7" fill="#1a1a1a">PFPE<tspan font-size="5.4" dy="1.6">1</tspan><tspan dy="-1.6">-PCL</tspan><tspan font-size="5.4" dy="1.6">3</tspan><tspan dy="-1.6">-100%</tspan></text>
<line x1="263.4" y1="193.2" x2="281.5" y2="193.2" stroke="#c43a52" stroke-width="1.3"/>
<text x="284.4" y="196.4" font-size="8.7" fill="#1a1a1a">PFPE<tspan font-size="5.4" dy="1.6">1</tspan><tspan dy="-1.6">-PCL</tspan><tspan font-size="5.4" dy="1.6">3</tspan><tspan dy="-1.6">-300%</tspan></text>
<line x1="263.4" y1="204.5" x2="281.5" y2="204.5" stroke="#2f9a5e" stroke-width="1.3"/>
<text x="284.4" y="207.7" font-size="8.7" fill="#1a1a1a">PFPE<tspan font-size="5.4" dy="1.6">1</tspan><tspan dy="-1.6">-PCL</tspan><tspan font-size="5.4" dy="1.6">3</tspan><tspan dy="-1.6">-400%</tspan></text>
<line x1="263.4" y1="216.0" x2="281.5" y2="216.0" stroke="#e8a458" stroke-width="1.3"/>
<text x="284.4" y="219.2" font-size="8.7" fill="#1a1a1a">PFPE<tspan font-size="5.4" dy="1.6">1</tspan><tspan dy="-1.6">-PCL</tspan><tspan font-size="5.4" dy="1.6">3</tspan><tspan dy="-1.6">-500%</tspan></text>
<text x="228" y="180.4" font-size="12" fill="#111">D</text><defs>
<linearGradient id="bgE" x1="0" y1="0" x2="0" y2="1">
<stop offset="0" stop-color="#4a9bcc"/><stop offset="0.12" stop-color="#3790ca"/><stop offset="0.33" stop-color="#2b87c5"/><stop offset="0.6" stop-color="#257dbd"/><stop offset="0.628" stop-color="#2a82c2"/><stop offset="0.64" stop-color="#55abe5"/><stop offset="1" stop-color="#62b5eb"/>
</linearGradient>
<linearGradient id="bgEh" x1="0" y1="0" x2="1" y2="0">
<stop offset="0" stop-color="#1c6fb4" stop-opacity="0.35"/><stop offset="0.35" stop-color="#1c6fb4" stop-opacity="0"/>
</linearGradient>
<linearGradient id="steel" x1="0" y1="0" x2="1" y2="0">
<stop offset="0" stop-color="#2a2e38"/><stop offset="0.07" stop-color="#b8b8bc"/><stop offset="0.13" stop-color="#2e2620"/><stop offset="0.24" stop-color="#4a3e36"/><stop offset="0.29" stop-color="#e4e4e8"/><stop offset="0.35" stop-color="#222228"/><stop offset="0.46" stop-color="#6a625e"/><stop offset="0.51" stop-color="#c8c8ce"/><stop offset="0.57" stop-color="#2a2420"/><stop offset="0.68" stop-color="#d0d0d6"/><stop offset="0.74" stop-color="#28262a"/><stop offset="0.88" stop-color="#5a5e6a"/><stop offset="1" stop-color="#3a4458"/>
</linearGradient>
<linearGradient id="glove" x1="0" y1="0" x2="1" y2="1">
<stop offset="0" stop-color="#2450bc"/><stop offset="0.5" stop-color="#1b41aa"/><stop offset="1" stop-color="#17389c"/>
</linearGradient>
<clipPath id="clipE"><rect x="469.2" y="25.5" width="216.8" height="288.6"/></clipPath>
<filter id="blur1" x="-50%" y="-50%" width="200%" height="200%"><feGaussianBlur stdDeviation="1.2"/></filter>
<filter id="blur2" x="-50%" y="-50%" width="200%" height="200%"><feGaussianBlur stdDeviation="2.5"/></filter>
<filter id="blur05"><feGaussianBlur stdDeviation="0.5"/></filter>
<filter id="grain" x="0" y="0" width="1" height="1"><feTurbulence type="fractalNoise" baseFrequency="0.9" numOctaves="2" seed="3"/><feColorMatrix type="matrix" values="0 0 0 0 0.5  0 0 0 0 0.5  0 0 0 0 0.5  0.6 0 0 0 0"/></filter>
</defs>
<rect x="463.5" y="10.5" width="228" height="318" rx="16" ry="16" fill="#f6f6f6"/>
<rect x="469.2" y="25.5" width="216.8" height="288.6" fill="url(#bgE)"/>
<g clip-path="url(#clipE)">
<rect x="469.2" y="25.5" width="216.8" height="184" fill="url(#bgEh)"/>
<polygon points="469.2,33.6 478.9,39.4 495.2,46.4 510.3,51.0 495.2,56.8 487.1,62.6 484.7,80.1 485.9,91.7 490.5,98.2 499.8,102.1 492.9,102.8 478.9,98.2 469.2,94.5" fill="#6e5e4a" filter="url(#blur05)"/>
<polygon points="469.2,35.9 478.9,41.7 490.5,47.5 483.6,56.8 478.9,80.1 469.2,80.1" fill="#80705c" filter="url(#blur1)"/>
<path d="M509.1,51.0 C513.4,51.3 520.3,53.5 525.4,54.5 C530.4,55.5 535.6,56.4 539.3,56.8 C543.0,57.2 546.5,58.4 547.4,56.8 C548.4,55.3 545.9,51.0 545.1,47.5 C544.3,44.1 543.4,39.8 542.8,35.9 C542.2,32.1 529.8,26.3 541.6,24.3 C553.4,22.4 601.6,11.9 613.6,24.3 C625.6,36.7 614.7,84.6 613.6,98.6 C612.5,112.6 610.2,105.6 607.1,108.4 C604.0,111.2 598.6,113.4 595.1,115.4 C591.5,117.3 588.8,118.5 585.8,120.0 C582.7,121.6 579.8,122.3 576.9,124.6 C574.0,127.0 571.3,130.9 568.3,133.9 C565.4,137.0 561.9,141.0 559.1,142.8 C556.2,144.5 554.1,145.7 551.4,144.6 C548.7,143.5 546.2,139.6 542.8,136.3 C539.4,132.9 535.1,128.5 531.2,124.6 C527.3,120.8 523.4,116.8 519.6,113.0 C515.7,109.3 511.4,104.8 508.0,102.1 C504.5,99.4 501.8,97.5 498.7,96.8 C495.6,96.0 491.6,98.6 489.4,97.7 C487.2,96.9 486.3,94.6 485.4,91.7 C484.5,88.7 484.0,84.8 484.0,80.1 C484.0,75.3 484.3,67.1 485.4,63.3 C486.6,59.5 488.6,59.1 491.0,57.3 C493.4,55.5 496.8,53.7 499.8,52.7 C502.9,51.6 504.9,50.7 509.1,51.0Z" fill="url(#glove)" />
<path d="M548.6,59.2 C549.0,61.9 555.6,70.0 557.9,75.4 C560.2,80.8 562.5,86.6 562.5,91.7 C562.5,96.7 560.6,101.7 557.9,105.6 C555.2,109.5 547.8,111.0 546.3,114.9 C544.7,118.8 546.7,125.0 548.6,128.8 C550.5,132.7 554.8,137.7 557.9,138.1 C561.0,138.5 564.5,133.9 567.2,131.2 C569.9,128.4 573.8,125.3 574.2,121.9 C574.5,118.4 570.7,115.3 569.5,110.2 C568.3,105.2 568.3,97.9 567.2,91.7 C566.0,85.5 564.5,78.5 562.5,73.1 C560.6,67.7 557.9,61.5 555.6,59.2 C553.2,56.8 548.2,56.4 548.6,59.2Z" fill="#122d84" filter="url(#blur2)" opacity="0.85"/>
<path d="M511.4,56.8 C517.3,56.4 529.3,58.4 534.7,61.5 C540.1,64.6 544.0,70.4 544.0,75.4 C544.0,80.4 539.3,89.3 534.7,91.7 C530.0,94.0 521.5,91.7 516.1,89.3 C510.7,87.0 504.9,82.0 502.2,77.7 C499.4,73.5 498.3,67.3 499.8,63.8 C501.4,60.3 505.6,57.2 511.4,56.8Z" fill="#2a5acb" filter="url(#blur2)" opacity="0.75"/>
<path d="M557.9,31.3 C564.1,28.6 587.3,28.2 595.1,31.3 C602.8,34.4 604.3,44.8 604.3,49.9 C604.3,54.9 600.5,60.3 595.1,61.5 C589.6,62.6 578.0,59.2 571.8,56.8 C565.6,54.5 560.2,51.8 557.9,47.5 C555.6,43.3 551.7,34.0 557.9,31.3Z" fill="#1f49b4" filter="url(#blur2)" opacity="0.8"/>
<path d="M590.4,68.4 C593.1,66.5 605.7,66.1 609.0,70.8 C612.3,75.4 612.5,90.1 610.1,96.3 C607.8,102.5 598.7,107.5 595.1,107.9 C591.4,108.3 588.5,102.9 588.1,98.6 C587.7,94.4 592.3,87.4 592.7,82.4 C593.1,77.3 587.7,70.4 590.4,68.4Z" fill="#2450c0" filter="url(#blur2)" opacity="0.8"/>
<path d="M548.1,60.4 C548.5,62.4 549.2,67.9 550.7,72.5 C552.1,77.2 555.0,83.2 556.7,88.1 C558.5,93.0 560.6,98.4 561.1,102.0 C561.5,105.6 559.6,108.5 559.3,109.8" fill="none" stroke="#12297c" stroke-width="3.2" stroke-linecap="round" filter="url(#blur1)" opacity="0.85"/>
<path d="M542.0,122.8 C543.1,121.6 546.0,117.9 548.9,115.9 C551.8,113.8 556.1,111.7 559.3,110.7 C562.5,109.6 565.7,110.4 568.0,109.8 C570.3,109.2 572.3,107.6 573.2,107.2" fill="none" stroke="#12297c" stroke-width="2.6" stroke-linecap="round" filter="url(#blur1)" opacity="0.8"/>
<path d="M547.2,131.5 C548.3,130.3 551.5,126.3 554.1,124.5 C556.7,122.8 561.3,121.6 562.8,121.1" fill="none" stroke="#12297c" stroke-width="2.2" stroke-linecap="round" filter="url(#blur1)" opacity="0.75"/>
<path d="M587.1,93.3 C588.2,94.5 591.1,98.8 594.0,100.3 C596.9,101.7 602.7,101.7 604.4,102.0" fill="none" stroke="#142f88" stroke-width="2.4" stroke-linecap="round" filter="url(#blur1)" opacity="0.7"/>
<path d="M548.9,53.5 C549.8,56.4 551.5,64.7 554.1,70.8 C556.7,76.9 561.6,84.1 564.5,89.9 C567.4,95.6 570.3,102.9 571.5,105.5" fill="none" stroke="#2e60d2" stroke-width="3.5" stroke-linecap="round" filter="url(#blur1)" opacity="0.55"/>
<path d="M555.9,131.5 C557.0,130.7 560.2,128.6 562.8,127.1 C565.4,125.7 570.0,123.5 571.5,122.8" fill="none" stroke="#3468d8" stroke-width="3" stroke-linecap="round" filter="url(#blur1)" opacity="0.6"/>
<path d="M496.9,60.4 C499.2,59.8 505.6,57.4 510.8,56.9 C516.0,56.5 522.9,57.2 528.1,57.8 C533.3,58.4 539.7,60.0 542.0,60.4" fill="none" stroke="#2c5ccc" stroke-width="4" stroke-linecap="round" filter="url(#blur1)" opacity="0.6"/>
<path d="M495.2,70.8 C495.5,73.1 495.5,80.3 496.9,84.7 C498.4,89.0 502.7,94.8 503.9,96.8" fill="none" stroke="#163690" stroke-width="4" stroke-linecap="round" filter="url(#blur1)" opacity="0.6"/>
<path d="M571.8,61.9 C572.8,60.6 576.2,61.0 578.3,62.9 C580.4,64.7 582.9,69.1 584.4,73.1 C585.9,77.1 587.2,83.2 587.4,87.0 C587.6,90.8 586.9,94.8 585.8,95.9 C584.6,96.9 582.1,95.2 580.4,93.1 C578.7,90.9 576.9,86.5 575.5,82.8 C574.2,79.2 572.9,74.7 572.3,71.2 C571.7,67.8 570.8,63.3 571.8,61.9Z" fill="#4b9fe0" filter="url(#blur05)"/>
<path d="M567.2,186 L566.8,168 C566.6,158 560.5,153.5 562.6,148.5 C565,143.5 573.5,144 576.8,149.5 C578.8,153 579,158 578.6,163" fill="none" stroke="#8a8f98" stroke-width="3.2" stroke-linecap="round"/>
<path d="M566.6,186 L566.2,168 C566,158 560,153.5 562.2,148.8 C564.6,144 572.8,144.4 576,149.8" fill="none" stroke="#dfe3ea" stroke-width="1.1" stroke-linecap="round"/>
<ellipse cx="567.6" cy="235.6" rx="25" ry="2.6" fill="#2f7fc0" opacity="0.55" filter="url(#blur1)"/>
<rect x="545.2" y="187" width="44.8" height="44.8" fill="url(#steel)"/>
<ellipse cx="567.6" cy="231.8" rx="22.4" ry="3.2" fill="url(#steel)"/>
<ellipse cx="567.6" cy="187" rx="22.4" ry="3.4" fill="#aeb2ba"/>
<ellipse cx="567.6" cy="186.7" rx="20" ry="2.4" fill="#6a6e78"/>
<rect x="564.6" y="179.5" width="5.4" height="8" fill="#60646c"/>
<rect x="613" y="25.5" width="73" height="106" fill="#16161a"/>
<rect x="613" y="25.5" width="73" height="106" filter="url(#grain)" opacity="0.12"/>
<rect x="613" y="56.6" width="73" height="34" fill="#d9d6d2"/>
<g stroke="#8f8b88" stroke-width="0.7"><line x1="614.00" y1="56.6" x2="614.00" y2="64.6"/><line x1="614.00" y1="90.6" x2="614.00" y2="84.2"/><line x1="615.85" y1="56.6" x2="615.85" y2="62.1"/><line x1="615.85" y1="90.6" x2="615.85" y2="86.2"/><line x1="617.70" y1="56.6" x2="617.70" y2="62.1"/><line x1="617.70" y1="90.6" x2="617.70" y2="86.2"/><line x1="619.55" y1="56.6" x2="619.55" y2="62.1"/><line x1="619.55" y1="90.6" x2="619.55" y2="86.2"/><line x1="621.40" y1="56.6" x2="621.40" y2="62.1"/><line x1="621.40" y1="90.6" x2="621.40" y2="86.2"/><line x1="623.25" y1="56.6" x2="623.25" y2="64.6"/><line x1="623.25" y1="90.6" x2="623.25" y2="84.2"/><line x1="625.10" y1="56.6" x2="625.10" y2="62.1"/><line x1="625.10" y1="90.6" x2="625.10" y2="86.2"/><line x1="626.95" y1="56.6" x2="626.95" y2="62.1"/><line x1="626.95" y1="90.6" x2="626.95" y2="86.2"/><line x1="628.80" y1="56.6" x2="628.80" y2="62.1"/><line x1="628.80" y1="90.6" x2="628.80" y2="86.2"/><line x1="630.65" y1="56.6" x2="630.65" y2="62.1"/><line x1="630.65" y1="90.6" x2="630.65" y2="86.2"/><line x1="632.50" y1="56.6" x2="632.50" y2="64.6"/><line x1="632.50" y1="90.6" x2="632.50" y2="84.2"/><line x1="634.35" y1="56.6" x2="634.35" y2="62.1"/><line x1="634.35" y1="90.6" x2="634.35" y2="86.2"/><line x1="636.20" y1="56.6" x2="636.20" y2="62.1"/><line x1="636.20" y1="90.6" x2="636.20" y2="86.2"/><line x1="638.05" y1="56.6" x2="638.05" y2="62.1"/><line x1="638.05" y1="90.6" x2="638.05" y2="86.2"/><line x1="639.90" y1="56.6" x2="639.90" y2="62.1"/><line x1="639.90" y1="90.6" x2="639.90" y2="86.2"/><line x1="641.75" y1="56.6" x2="641.75" y2="64.6"/><line x1="641.75" y1="90.6" x2="641.75" y2="84.2"/><line x1="643.60" y1="56.6" x2="643.60" y2="62.1"/><line x1="643.60" y1="90.6" x2="643.60" y2="86.2"/><line x1="645.45" y1="56.6" x2="645.45" y2="62.1"/><line x1="645.45" y1="90.6" x2="645.45" y2="86.2"/><line x1="647.30" y1="56.6" x2="647.30" y2="62.1"/><line x1="647.30" y1="90.6" x2="647.30" y2="86.2"/><line x1="649.15" y1="56.6" x2="649.15" y2="62.1"/><line x1="649.15" y1="90.6" x2="649.15" y2="86.2"/><line x1="651.00" y1="56.6" x2="651.00" y2="64.6"/><line x1="651.00" y1="90.6" x2="651.00" y2="84.2"/><line x1="652.85" y1="56.6" x2="652.85" y2="62.1"/><line x1="652.85" y1="90.6" x2="652.85" y2="86.2"/><line x1="654.70" y1="56.6" x2="654.70" y2="62.1"/><line x1="654.70" y1="90.6" x2="654.70" y2="86.2"/><line x1="656.55" y1="56.6" x2="656.55" y2="62.1"/><line x1="656.55" y1="90.6" x2="656.55" y2="86.2"/><line x1="658.40" y1="56.6" x2="658.40" y2="62.1"/><line x1="658.40" y1="90.6" x2="658.40" y2="86.2"/><line x1="660.25" y1="56.6" x2="660.25" y2="64.6"/><line x1="660.25" y1="90.6" x2="660.25" y2="84.2"/><line x1="662.10" y1="56.6" x2="662.10" y2="62.1"/><line x1="662.10" y1="90.6" x2="662.10" y2="86.2"/><line x1="663.95" y1="56.6" x2="663.95" y2="62.1"/><line x1="663.95" y1="90.6" x2="663.95" y2="86.2"/><line x1="665.80" y1="56.6" x2="665.80" y2="62.1"/><line x1="665.80" y1="90.6" x2="665.80" y2="86.2"/><line x1="667.65" y1="56.6" x2="667.65" y2="62.1"/><line x1="667.65" y1="90.6" x2="667.65" y2="86.2"/><line x1="669.50" y1="56.6" x2="669.50" y2="64.6"/><line x1="669.50" y1="90.6" x2="669.50" y2="84.2"/><line x1="671.35" y1="56.6" x2="671.35" y2="62.1"/><line x1="671.35" y1="90.6" x2="671.35" y2="86.2"/><line x1="673.20" y1="56.6" x2="673.20" y2="62.1"/><line x1="673.20" y1="90.6" x2="673.20" y2="86.2"/><line x1="675.05" y1="56.6" x2="675.05" y2="62.1"/><line x1="675.05" y1="90.6" x2="675.05" y2="86.2"/><line x1="676.90" y1="56.6" x2="676.90" y2="62.1"/><line x1="676.90" y1="90.6" x2="676.90" y2="86.2"/><line x1="678.75" y1="56.6" x2="678.75" y2="64.6"/><line x1="678.75" y1="90.6" x2="678.75" y2="84.2"/><line x1="680.60" y1="56.6" x2="680.60" y2="62.1"/><line x1="680.60" y1="90.6" x2="680.60" y2="86.2"/><line x1="682.45" y1="56.6" x2="682.45" y2="62.1"/><line x1="682.45" y1="90.6" x2="682.45" y2="86.2"/><line x1="684.30" y1="56.6" x2="684.30" y2="62.1"/><line x1="684.30" y1="90.6" x2="684.30" y2="86.2"/><line x1="686.15" y1="56.6" x2="686.15" y2="62.1"/><line x1="686.15" y1="90.6" x2="686.15" y2="86.2"/></g>
<text x="622.4" y="77.3" font-size="10" font-weight="bold" text-anchor="middle" fill="#15151a" font-family="Liberation Serif, Times New Roman, serif">6</text>
<text x="642.2" y="77.3" font-size="10" font-weight="bold" text-anchor="middle" fill="#15151a" font-family="Liberation Serif, Times New Roman, serif">7</text>
<text x="660.1" y="77.3" font-size="10" font-weight="bold" text-anchor="middle" fill="#15151a" font-family="Liberation Serif, Times New Roman, serif">8</text>
<text x="679.4" y="77.3" font-size="10" font-weight="bold" text-anchor="middle" fill="#15151a" font-family="Liberation Serif, Times New Roman, serif">9</text>
<line x1="652.6" y1="25.5" x2="652.6" y2="131.4" stroke="#b8b8b8" stroke-width="0.9"/>
<rect x="613" y="131.4" width="73" height="52" fill="#2c89c8"/>
<rect x="613" y="183.2" width="73" height="25.6" fill="#5cb0e8"/>
<rect x="613" y="176" width="73" height="8" fill="#2a80c2" opacity="0.5" filter="url(#blur1)"/>
<polygon points="637.8,148.0 641.0,158.4 646.6,172.8 642.6,187.2 637.8,191.6 634.6,187.2 632.2,172.8 633.8,160.0" fill="#a89f96" />
<polygon points="637.8,149.6 639.4,158.4 641.0,172.8 639.4,185.6 637.8,190.4 636.7,185.6 636.2,172.8 636.7,160.0" fill="#d2ccc4" />
<rect x="641" y="152.8" width="36.8" height="18.4" rx="1.5" fill="#15181c"/>
<rect x="633" y="159" width="10" height="6.6" fill="#15181c"/>
<rect x="676" y="160.8" width="10" height="7.2" fill="#1a1e24"/>
<rect x="643.4" y="157.6" width="24" height="9.6" fill="#9a8c62"/>
<text x="655.5" y="165.6" font-size="7" text-anchor="middle" fill="#4a4030" font-weight="bold">0.02</text>
<ellipse cx="682" cy="172" rx="2.6" ry="2.2" fill="#c8c8cc"/>
</g>
<text x="568.6" y="218.2" font-size="12.2" text-anchor="middle" fill="#f4f6fa">1 kg</text>
<text x="565.6" y="252.3" font-size="12.8" text-anchor="middle" fill="#eef3fa">1 : 200,000</text>
<text x="454.5" y="11.2" font-size="12" fill="#111">E</text>
<defs>
<filter id="semA" x="0" y="0" width="1" height="1" color-interpolation-filters="sRGB">
<feTurbulence type="fractalNoise" baseFrequency="0.022 0.04" numOctaves="5" seed="7" result="n"/>
<feDiffuseLighting in="n" surfaceScale="4.2" diffuseConstant="1" lighting-color="#ffffff" result="l"><feDistantLight azimuth="80" elevation="40"/></feDiffuseLighting>
<feColorMatrix in="l" result="base" type="matrix" values="0.75 0 0 0 -0.08  0.75 0 0 0 -0.08  0.75 0 0 0 -0.08  0 0 0 0 1"/>
<feTurbulence type="fractalNoise" baseFrequency="0.05 0.12" numOctaves="2" seed="17" result="n2"/>
<feColorMatrix in="n2" type="matrix" values="0 0 0 0 0.86  0 0 0 0 0.86  0 0 0 0 0.86  0 0 0 5 -3.45" result="st"/>
<feMerge><feMergeNode in="base"/><feMergeNode in="st"/></feMerge>
</filter>
<filter id="semB" x="0" y="0" width="1" height="1" color-interpolation-filters="sRGB">
<feTurbulence type="fractalNoise" baseFrequency="0.018 0.11" numOctaves="5" seed="11" result="n"/>
<feDiffuseLighting in="n" surfaceScale="1.15" diffuseConstant="1" lighting-color="#ffffff" result="l"><feDistantLight azimuth="80" elevation="40"/></feDiffuseLighting>
<feColorMatrix in="l" result="base" type="matrix" values="0.7 0 0 0 -0.005  0.7 0 0 0 -0.005  0.7 0 0 0 -0.005  0 0 0 0 1"/>
<feTurbulence type="fractalNoise" baseFrequency="0.025 0.3" numOctaves="2" seed="5" result="n2"/>
<feColorMatrix in="n2" type="matrix" values="0 0 0 0 0.86  0 0 0 0 0.86  0 0 0 0 0.86  0 0 0 5 -3.4" result="st"/>
<feMerge><feMergeNode in="base"/><feMergeNode in="st"/></feMerge>
</filter>
<filter id="semC" x="0" y="0" width="1" height="1" color-interpolation-filters="sRGB">
<feTurbulence type="fractalNoise" baseFrequency="0.012 0.13" numOctaves="5" seed="23" result="n"/>
<feDiffuseLighting in="n" surfaceScale="1.0" diffuseConstant="1" lighting-color="#ffffff" result="l"><feDistantLight azimuth="80" elevation="40"/></feDiffuseLighting>
<feColorMatrix in="l" result="base" type="matrix" values="0.7 0 0 0 -0.02  0.7 0 0 0 -0.02  0.7 0 0 0 -0.02  0 0 0 0 1"/>
<feTurbulence type="fractalNoise" baseFrequency="0.02 0.32" numOctaves="2" seed="9" result="n2"/>
<feColorMatrix in="n2" type="matrix" values="0 0 0 0 0.86  0 0 0 0 0.86  0 0 0 0 0.86  0 0 0 5 -3.45" result="st"/>
<feMerge><feMergeNode in="base"/><feMergeNode in="st"/></feMerge>
</filter>
<filter id="semD" x="0" y="0" width="1" height="1" color-interpolation-filters="sRGB">
<feTurbulence type="fractalNoise" baseFrequency="0.010 0.14" numOctaves="5" seed="31" result="n"/>
<feDiffuseLighting in="n" surfaceScale="0.85" diffuseConstant="1" lighting-color="#ffffff" result="l"><feDistantLight azimuth="80" elevation="40"/></feDiffuseLighting>
<feColorMatrix in="l" result="base" type="matrix" values="0.7 0 0 0 -0.01  0.7 0 0 0 -0.01  0.7 0 0 0 -0.01  0 0 0 0 1"/>
<feTurbulence type="fractalNoise" baseFrequency="0.015 0.34" numOctaves="2" seed="13" result="n2"/>
<feColorMatrix in="n2" type="matrix" values="0 0 0 0 0.86  0 0 0 0 0.86  0 0 0 0 0.86  0 0 0 5 -3.5" result="st"/>
<feMerge><feMergeNode in="base"/><feMergeNode in="st"/></feMerge>
</filter>
</defs>
<rect x="24.6" y="350.1" width="151.2" height="104.2" fill="#727272"/>
<rect x="24.6" y="350.1" width="151.2" height="104.2" filter="url(#semA)"/>
<text transform="translate(36.4,367) scale(1,1.4)" font-size="11.4" font-weight="bold" fill="#ededed" font-family="Liberation Serif, Times New Roman, serif">i</text>
<text transform="translate(168.2,367) scale(1,1.4)" font-size="8.6" fill="#f4f4f4" text-anchor="end">100%</text>
<rect x="135.8" y="441.8" width="31.2" height="3" fill="#fff"/>
<text x="152.9" y="438.8" font-size="8.3" font-weight="bold" fill="#fff" text-anchor="middle">25 μm</text>
<rect x="196.1" y="350.1" width="152.7" height="104.2" fill="#727272"/>
<rect x="196.1" y="350.1" width="152.7" height="104.2" filter="url(#semB)"/>
<text transform="translate(208.8,367) scale(1,1.4)" font-size="11.4" font-weight="bold" fill="#ededed" font-family="Liberation Serif, Times New Roman, serif">ii</text>
<text transform="translate(338.9,367) scale(1,1.4)" font-size="8.6" fill="#f4f4f4" text-anchor="end">300%</text>
<rect x="307.6" y="441.8" width="31.2" height="3" fill="#fff"/>
<text x="323.2" y="438.8" font-size="8.3" font-weight="bold" fill="#fff" text-anchor="middle">25 μm</text>
<rect x="369.0" y="350.1" width="151.9" height="104.2" fill="#727272"/>
<rect x="369.0" y="350.1" width="151.9" height="104.2" filter="url(#semC)"/>
<text transform="translate(381.2,367) scale(1,1.4)" font-size="11.4" font-weight="bold" fill="#ededed" font-family="Liberation Serif, Times New Roman, serif">iii</text>
<text transform="translate(509.7,367) scale(1,1.4)" font-size="8.6" fill="#f4f4f4" text-anchor="end">500%</text>
<rect x="478.6" y="441.8" width="31.2" height="3" fill="#fff"/>
<text x="494.0" y="438.8" font-size="8.3" font-weight="bold" fill="#fff" text-anchor="middle">25 μm</text>
<rect x="539.7" y="350.1" width="152.3" height="104.2" fill="#727272"/>
<rect x="539.7" y="350.1" width="152.3" height="104.2" filter="url(#semD)"/>
<text transform="translate(552.0,367) scale(1,1.4)" font-size="11.4" font-weight="bold" fill="#ededed" font-family="Liberation Serif, Times New Roman, serif">iv</text>
<text transform="translate(682.5,367) scale(1,1.4)" font-size="8.6" fill="#f4f4f4" text-anchor="end">700%</text>
<rect x="652.2" y="441.8" width="31.2" height="3" fill="#fff"/>
<text x="667.6" y="438.8" font-size="8.3" font-weight="bold" fill="#fff" text-anchor="middle">25 μm</text>
<text x="5" y="356" font-size="12" fill="#111">F</text>
<defs>
<radialGradient id="saxsbg" cx="0.5" cy="0.52" r="0.62">
<stop offset="0" stop-color="#e0161e"/><stop offset="0.5" stop-color="#d4141c"/><stop offset="0.68" stop-color="#bd131a"/><stop offset="0.85" stop-color="#9c1016"/><stop offset="1" stop-color="#860e13"/>
</radialGradient>
<radialGradient id="saxsbg4" cx="0.5" cy="0.52" r="0.66">
<stop offset="0" stop-color="#e8151d"/><stop offset="0.55" stop-color="#dc141c"/><stop offset="0.75" stop-color="#c4131a"/><stop offset="0.9" stop-color="#a81117"/><stop offset="1" stop-color="#960f15"/>
</radialGradient>
<radialGradient id="ring1">
<stop offset="0" stop-color="#fff"/><stop offset="0.2" stop-color="#fffce8"/><stop offset="0.26" stop-color="#ffe860"/><stop offset="0.33" stop-color="#fbd626"/><stop offset="0.5" stop-color="#fcd822"/><stop offset="0.6" stop-color="#f8bc1c"/><stop offset="0.72" stop-color="#f28e18"/><stop offset="0.84" stop-color="#e8521a"/><stop offset="0.94" stop-color="#de2a1c" stop-opacity="0.7"/><stop offset="1" stop-color="#dc1c1e" stop-opacity="0"/>
</radialGradient>
<radialGradient id="halo2">
<stop offset="0" stop-color="#ffe860"/><stop offset="0.25" stop-color="#fbd030"/><stop offset="0.45" stop-color="#f6a020"/><stop offset="0.65" stop-color="#ee6a1c"/><stop offset="0.85" stop-color="#d8341e" stop-opacity="0.8"/><stop offset="1" stop-color="#c4222a" stop-opacity="0"/>
</radialGradient>
<radialGradient id="halo3">
<stop offset="0" stop-color="#fcd23a"/><stop offset="0.25" stop-color="#f8a822"/><stop offset="0.5" stop-color="#f0741c"/><stop offset="0.75" stop-color="#dc3c1e" stop-opacity="0.85"/><stop offset="1" stop-color="#b0222a" stop-opacity="0"/>
</radialGradient>
<radialGradient id="spot">
<stop offset="0" stop-color="#fff"/><stop offset="0.45" stop-color="#fff8c0"/><stop offset="0.75" stop-color="#ffd83a" stop-opacity="0.9"/><stop offset="1" stop-color="#f8a020" stop-opacity="0"/>
</radialGradient>
<radialGradient id="spot4">
<stop offset="0" stop-color="#fff"/><stop offset="0.55" stop-color="#fffbe0"/><stop offset="0.75" stop-color="#ffd83a"/><stop offset="0.9" stop-color="#f47a1c" stop-opacity="0.8"/><stop offset="1" stop-color="#e8301c" stop-opacity="0"/>
</radialGradient>
<filter id="saxsn" x="0" y="0" width="1" height="1" color-interpolation-filters="sRGB">
<feTurbulence type="fractalNoise" baseFrequency="0.85" numOctaves="1" seed="5"/>
<feColorMatrix type="matrix" values="0 0 0 0 0.26  0 0 0 0 0.03  0 0 0 0 0.05  0 0 0 3.4 -1.42"/>
</filter>
<radialGradient id="nmask" cx="0.5" cy="0.52" r="0.62">
<stop offset="0.45" stop-color="#000"/><stop offset="0.75" stop-color="#888"/><stop offset="1" stop-color="#fff"/>
</radialGradient>
</defs>
<radialGradient id="sb0" gradientUnits="userSpaceOnUse" cx="100.6" cy="531.6" r="104"><stop offset="0" stop-color="#dc1a20"/><stop offset="0.4" stop-color="#d6191f"/><stop offset="0.5" stop-color="#c8181d"/><stop offset="0.62" stop-color="#b0171b"/><stop offset="0.78" stop-color="#a0161a"/><stop offset="1" stop-color="#961519"/></radialGradient>
<radialGradient id="nm0" gradientUnits="userSpaceOnUse" cx="100.6" cy="531.6" r="104"><stop offset="0.4" stop-color="#000"/><stop offset="0.6" stop-color="#aaa"/><stop offset="0.8" stop-color="#fff"/></radialGradient>
<rect x="24.6" y="465.7" width="151.7" height="127" fill="url(#sb0)"/>
<mask id="m0"><rect x="24.6" y="465.7" width="151.7" height="127" fill="url(#nm0)"/></mask>
<rect x="24.6" y="465.7" width="151.7" height="127" filter="url(#saxsn)" mask="url(#m0)" opacity="0.95"/>
<circle cx="100.6" cy="531.6" r="30" fill="url(#ring1)"/>
<circle cx="100.6" cy="531.6" r="9.5" fill="#f5b81c" opacity="0.45" filter="url(#blur05)"/>
<circle cx="100.6" cy="531.6" r="7.6" fill="url(#spot)"/>
<circle cx="100.6" cy="531.6" r="5.8" fill="#fff" filter="url(#blur05)"/>
<text transform="translate(35.0,484.8) scale(1,1.15)" font-size="11.8" font-weight="bold" fill="#f6dede" font-family="Liberation Serif, Times New Roman, serif">i</text>
<text transform="translate(165.5,484.8) scale(1,1.15)" font-size="8.5" fill="#f8e8e8" text-anchor="end">0%</text>
<radialGradient id="sb1" gradientUnits="userSpaceOnUse" cx="275.4" cy="531.6" r="104"><stop offset="0" stop-color="#c4242c"/><stop offset="0.3" stop-color="#ba2029"/><stop offset="0.45" stop-color="#a81d25"/><stop offset="0.6" stop-color="#981a21"/><stop offset="0.8" stop-color="#8c181e"/><stop offset="1" stop-color="#84161c"/></radialGradient>
<radialGradient id="nm1" gradientUnits="userSpaceOnUse" cx="275.4" cy="531.6" r="104"><stop offset="0.4" stop-color="#000"/><stop offset="0.6" stop-color="#aaa"/><stop offset="0.8" stop-color="#fff"/></radialGradient>
<rect x="196.5" y="465.7" width="155.5" height="127" fill="url(#sb1)"/>
<mask id="m1"><rect x="196.5" y="465.7" width="155.5" height="127" fill="url(#nm1)"/></mask>
<rect x="196.5" y="465.7" width="155.5" height="127" filter="url(#saxsn)" mask="url(#m1)" opacity="0.95"/>
<ellipse cx="275.4" cy="531.6" rx="34" ry="33" fill="url(#halo2)"/>
<ellipse cx="275.4" cy="532.1" rx="4" ry="15.5" fill="#ffe650" opacity="0.85" filter="url(#blur1)"/>
<ellipse cx="275.4" cy="531.6" rx="13" ry="3" fill="#fffdf0" filter="url(#blur1)"/>
<ellipse cx="275.4" cy="531.6" rx="6.5" ry="5.6" fill="#fff" filter="url(#blur1)"/>
<text transform="translate(209.4,484.8) scale(1,1.15)" font-size="11.8" font-weight="bold" fill="#f6dede" font-family="Liberation Serif, Times New Roman, serif">ii</text>
<text transform="translate(338.8,484.8) scale(1,1.15)" font-size="8.5" fill="#f8e8e8" text-anchor="end">300%</text>
<radialGradient id="sb2" gradientUnits="userSpaceOnUse" cx="445.4" cy="532.5" r="104"><stop offset="0" stop-color="#c4242c"/><stop offset="0.3" stop-color="#ba2029"/><stop offset="0.45" stop-color="#a81d25"/><stop offset="0.6" stop-color="#981a21"/><stop offset="0.8" stop-color="#8c181e"/><stop offset="1" stop-color="#84161c"/></radialGradient>
<radialGradient id="nm2" gradientUnits="userSpaceOnUse" cx="445.4" cy="532.5" r="104"><stop offset="0.4" stop-color="#000"/><stop offset="0.6" stop-color="#aaa"/><stop offset="0.8" stop-color="#fff"/></radialGradient>
<rect x="367.3" y="465.7" width="155.2" height="127" fill="url(#sb2)"/>
<mask id="m2"><rect x="367.3" y="465.7" width="155.2" height="127" fill="url(#nm2)"/></mask>
<rect x="367.3" y="465.7" width="155.2" height="127" filter="url(#saxsn)" mask="url(#m2)" opacity="0.95"/>
<ellipse cx="445.4" cy="532.5" rx="35" ry="30" fill="url(#halo3)"/>
<ellipse cx="445.4" cy="532.5" rx="5.5" ry="17" fill="#fbd030" opacity="0.9" filter="url(#blur2)"/>
<circle cx="445.4" cy="520.0" r="5.4" fill="#fff27a" filter="url(#blur1)"/>
<circle cx="445.4" cy="545.0" r="5.4" fill="#fff27a" filter="url(#blur1)"/>
<ellipse cx="445.4" cy="532.5" rx="12.5" ry="2.4" fill="#fffbe6" filter="url(#blur05)"/>
<ellipse cx="445.4" cy="532.5" rx="6" ry="5.6" fill="#fff" filter="url(#blur1)"/>
<text transform="translate(381.0,484.8) scale(1,1.15)" font-size="11.8" font-weight="bold" fill="#f6dede" font-family="Liberation Serif, Times New Roman, serif">iii</text>
<text transform="translate(509.7,484.8) scale(1,1.15)" font-size="8.5" fill="#f8e8e8" text-anchor="end">500%</text>
<radialGradient id="sb3" gradientUnits="userSpaceOnUse" cx="615.3" cy="531.6" r="104"><stop offset="0" stop-color="#e4181f"/><stop offset="0.45" stop-color="#dc171e"/><stop offset="0.58" stop-color="#cc161c"/><stop offset="0.72" stop-color="#b4151a"/><stop offset="0.9" stop-color="#a21418"/><stop offset="1" stop-color="#9a1317"/></radialGradient>
<radialGradient id="nm3" gradientUnits="userSpaceOnUse" cx="615.3" cy="531.6" r="104"><stop offset="0.55" stop-color="#000"/><stop offset="0.75" stop-color="#999"/><stop offset="0.95" stop-color="#fff"/></radialGradient>
<rect x="537.9" y="465.7" width="154.1" height="127" fill="url(#sb3)"/>
<mask id="m3"><rect x="537.9" y="465.7" width="154.1" height="127" fill="url(#nm3)"/></mask>
<rect x="537.9" y="465.7" width="154.1" height="127" filter="url(#saxsn)" mask="url(#m3)" opacity="0.6"/>
<ellipse cx="615.3" cy="531.6" rx="17" ry="1.6" fill="#ffe9a0" filter="url(#blur05)"/>
<circle cx="615.3" cy="531.6" r="8.6" fill="url(#spot4)"/>
<text transform="translate(552.0,484.8) scale(1,1.15)" font-size="11.8" font-weight="bold" fill="#f6dede" font-family="Liberation Serif, Times New Roman, serif">iv</text>
<text transform="translate(684.4,484.8) scale(1,1.15)" font-size="8.5" fill="#f8e8e8" text-anchor="end">1200%</text>
<text x="4.6" y="470.4" font-size="12" fill="#111">G</text>
</svg></body></html>
